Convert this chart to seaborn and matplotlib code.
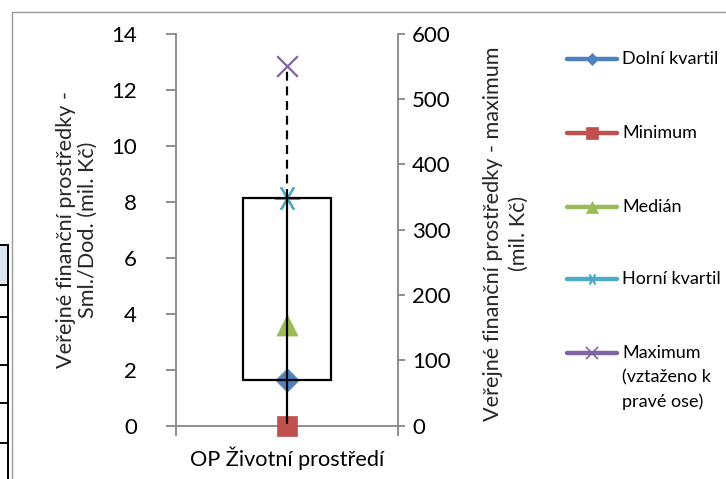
import matplotlib
matplotlib.use("Agg")
import matplotlib.pyplot as plt
import seaborn as sns
import pandas as pd
from matplotlib.lines import Line2D
from matplotlib.patches import Rectangle

# ---- data -------------------------------------------------------------
categories = ["OP Životní prostředí"]
minimum = [0.0]
lower_quartile = [1.62]
median = [3.6]
upper_quartile = [8.12]
maximum_right = [550.0]          # plotted against the right-hand axis

left_ticks = [0, 2, 4, 6, 8, 10, 12, 14]
right_ticks = [0, 100, 200, 300, 400, 500, 600]

legend_labels = ["Dolní kvartil", "Minimum", "Medián", "Horní kvartil",
                 "Maximum\n(vztaženo k\npravé ose)"]
series_colors = ["#4F81BD", "#C0504D", "#9BBB59", "#4BACC6", "#8064A2"]
asterisk = (6, 2, 90)
series_markers = ["D", "s", "^", asterisk, "x"]

# ---- style ------------------------------------------------------------
sns.set_style("white")
plt.rcParams["font.family"] = ["Lato", "DejaVu Sans"]
AXIS_GREY = "#868686"
TICK_FS = 16
LABEL_FS = 15.6

W, H = 726, 479
fig = plt.figure(figsize=(W / 100, H / 100), dpi=100)


def fx(px):
    return px / W


def fy(py):
    return 1 - py / H


ax = fig.add_axes([fx(176), fy(425.7), fx(398) - fx(176), fy(33.5) - fy(425.7)])
ax2 = ax.twinx()

ax.set_xlim(-0.5, len(categories) - 0.5)
ax.set_ylim(left_ticks[0], left_ticks[-1])
ax2.set_ylim(right_ticks[0], right_ticks[-1])
to_left = (left_ticks[-1] - left_ticks[0]) / (right_ticks[-1] - right_ticks[0])

pos = list(range(len(categories)))
df = pd.DataFrame({
    "x": pos,
    "minimum": minimum,
    "q1": lower_quartile,
    "median": median,
    "q3": upper_quartile,
    "maximum": maximum_right,
})

# ---- markers ----------------------------------------------------------
left_series = [("q1", 0, 140), ("minimum", 1, 215), ("median", 2, 230), ("q3", 3, 300)]
for col, k, size in left_series:
    lw = 1.6 if k == 3 else 0.5
    sns.scatterplot(data=df, x="x", y=col, ax=ax, marker=series_markers[k],
                    s=size, color=series_colors[k], edgecolor=series_colors[k],
                    linewidth=lw, zorder=3, legend=False, clip_on=False)
sns.scatterplot(data=df, x="x", y="maximum", ax=ax2, marker=series_markers[4],
                s=220, color=series_colors[4], linewidth=1.6, zorder=3,
                legend=False, clip_on=False)

# ---- box, whisker and dashed link to the maximum ----------------------
half = 0.199
for i, row in df.iterrows():
    ax.add_patch(Rectangle((row.x - half, row.q1), 2 * half, row.q3 - row.q1,
                           fill=False, edgecolor="black", linewidth=1.6, zorder=4))
    ax.plot([row.x, row.x], [row.minimum + 0.08, row.q3], color="black",
            linewidth=1.6, zorder=5)
    ax.plot([row.x, row.x], [row.q3, row.maximum * to_left], color="black",
            linewidth=1.6, linestyle=(0, (4, 2.6)), zorder=5)

# ---- axes styling -----------------------------------------------------
ax.set_yticks(left_ticks)
ax2.set_yticks(right_ticks)
ax.set_xticks(pos, labels=categories)
ax.set_xticks([-0.5, len(categories) - 0.5], minor=True)

ax.tick_params(axis="y", which="major", left=True, direction="out", length=7,
               width=1.3, color=AXIS_GREY, pad=21, labelsize=TICK_FS, labelcolor="black")
ax2.tick_params(axis="y", which="major", right=True, direction="out", length=5,
                width=1.3, color=AXIS_GREY, pad=5, labelsize=TICK_FS, labelcolor="black")
ax.tick_params(axis="x", which="major", bottom=True, length=0, pad=15,
               labelsize=LABEL_FS, labelcolor="black")
ax.tick_params(axis="x", which="minor", bottom=True, direction="out", length=7,
               width=1.3, color=AXIS_GREY)

for name, sp in ax.spines.items():
    sp.set_visible(name in ("left", "bottom"))
    sp.set_color(AXIS_GREY)
    sp.set_linewidth(1.3)
for name, sp in ax2.spines.items():
    sp.set_visible(name == "right")
    sp.set_color(AXIS_GREY)
    sp.set_linewidth(1.3)

ax.set_xlabel("")
ax.set_ylabel("Veřejné finanční prostředky -\nSml./Dod. (mil. Kč)",
              fontsize=LABEL_FS, linespacing=1.1)
ax.yaxis.set_label_coords((77 - 176) / 222, 0.5)
ax.yaxis.label.set_va("center")
ax2.set_ylabel("Veřejné finanční prostředky - maximum\n(mil. Kč)",
               fontsize=LABEL_FS, linespacing=1.35, rotation=90)
ax2.yaxis.set_label_coords((506 - 176) / 222, 0.49)
ax2.yaxis.label.set_va("center")
ax2.yaxis.label.set_ha("center")

# ---- legend -----------------------------------------------------------
legend_rows = [59, 133, 207, 279, 353]
legend_ms = [6, 9, 8, 8, 8]
for k, (lab, y) in enumerate(zip(legend_labels, legend_rows)):
    mk = series_markers[k]
    fig.add_artist(Line2D([fx(567), fx(592), fx(617)], [fy(y)] * 3,
                          transform=fig.transFigure, color=series_colors[k],
                          linewidth=3.2, solid_capstyle="round",
                          marker=mk, markevery=[1], markersize=legend_ms[k],
                          markeredgewidth=1.2 if k >= 3 else 0.5,
                          markeredgecolor=series_colors[k]))
    for j, line in enumerate(lab.split("\n")):
        fig.text(fx(622), fy(y + 24.5 * j), line, fontsize=13,
                 ha="left", va="center", color="black")

# ---- chart frame and the edge of the neighbouring sheet table ----------
frame = dict(transform=fig.transFigure, color="#9a9a9a", linewidth=1.0)
fig.add_artist(Line2D([fx(11.5), 1], [fy(11.5), fy(11.5)], **frame))
fig.add_artist(Line2D([fx(11.5), fx(11.5)], [fy(11.5), 0], **frame))

fig.add_artist(Rectangle((0, fy(284)), fx(7), fy(246) - fy(284),
                         transform=fig.transFigure, facecolor="#dce6f1",
                         edgecolor="none"))
fig.add_artist(Line2D([fx(7.5), fx(7.5)], [fy(245), 0], transform=fig.transFigure,
                      color="black", linewidth=1.4))
for yy in [245, 285, 317, 365, 403, 443]:
    fig.add_artist(Line2D([0, fx(7.5)], [fy(yy), fy(yy)], transform=fig.transFigure,
                          color="black", linewidth=1.4))

fig.savefig("out.png", dpi=100, facecolor="white")
